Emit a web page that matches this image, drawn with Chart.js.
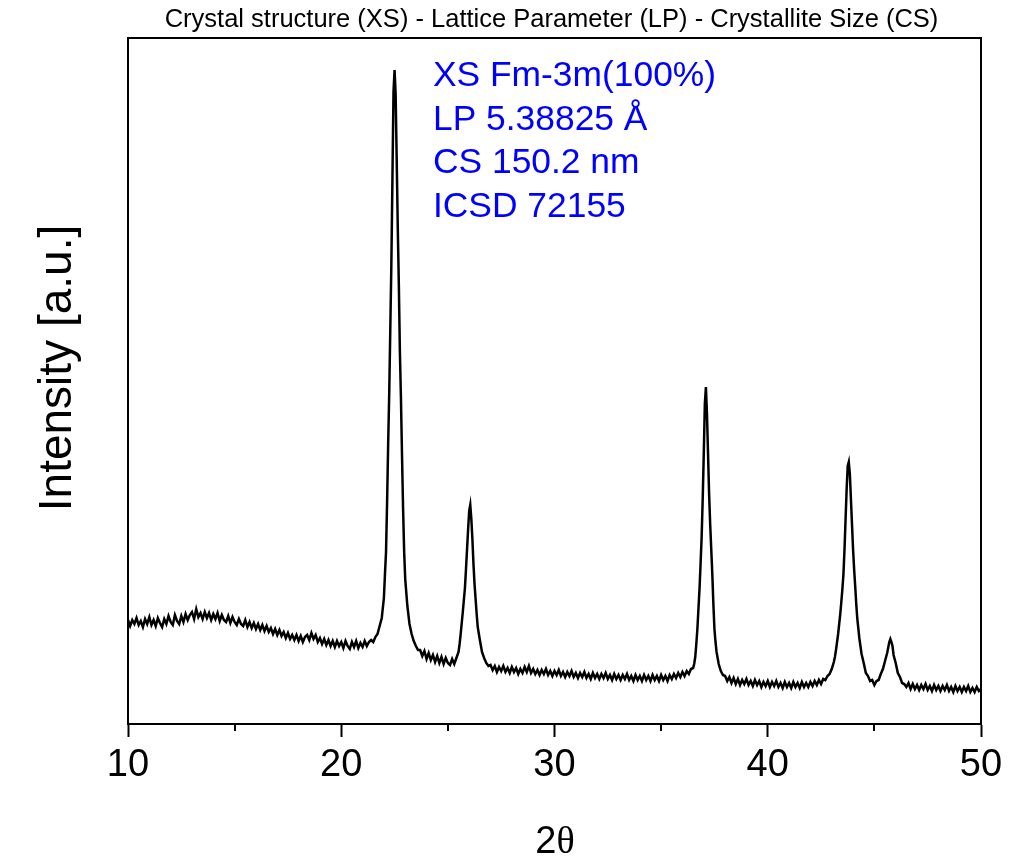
<!DOCTYPE html>
<html>
<head>
<meta charset="utf-8">
<script src="https://cdn.jsdelivr.net/npm/chart.js@4.4.1/dist/chart.umd.min.js"></script>
<style>
  html, body { margin: 0; padding: 0; background: #ffffff; }
  #wrap { width: 1011px; height: 863px; }
</style>
</head>
<body>
<div id="wrap"><canvas id="c" width="1011" height="863"></canvas></div>
<script>
// ---- Data (2θ, intensity in arbitrary units) ----
const amorphousHump = [
  [10.0,104],[10.1,98],[10.2,104],[10.3,100],[10.4,106],[10.5,99],[10.6,103],[10.7,97],[10.8,105],[10.9,100],
  [11.0,107],[11.1,99],[11.2,104],[11.3,98],[11.4,106],[11.5,101],[11.6,97],[11.7,105],[11.8,100],[11.9,108],
  [12.0,102],[12.1,99],[12.2,109],[12.3,103],[12.4,100],[12.5,108],[12.6,102],[12.7,110],[12.8,104],[12.9,109],
  [13.0,112],[13.1,105],[13.2,115],[13.3,107],[13.4,111],[13.5,105],[13.6,112],[13.7,106],[13.8,111],[13.9,104],
  [14.0,110],[14.1,105],[14.2,111],[14.3,103],[14.4,109],[14.5,104],[14.6,102],[14.7,108],[14.8,101],[14.9,107],
  [15.0,102],[15.1,99],[15.2,105],[15.3,100],[15.4,98],[15.5,104],[15.6,97],[15.7,102],[15.8,96],[15.9,101],
  [16.0,95],[16.1,100],[16.2,94],[16.3,99],[16.4,93],[16.5,98],[16.6,92],[16.7,96],[16.8,90],[16.9,95],
  [17.0,89],[17.1,94],[17.2,88],[17.3,92],[17.4,86],[17.5,91],[17.6,85],[17.7,89],[17.8,84],[17.9,89],
  [18.0,83],[18.1,88],[18.2,82],[18.3,87],[18.4,89],[18.5,84],[18.6,91],[18.7,85],[18.8,89],[18.9,82],
  [19.0,86],[19.1,80],[19.2,85],[19.3,79],[19.4,84],[19.5,78],[19.6,83],[19.7,77],[19.8,83],[19.9,78],
  [20.0,82],[20.1,76],[20.2,83],[20.3,78],[20.4,75],[20.5,82],[20.6,77],[20.7,83],[20.8,76],[20.9,81],
  [21.0,77],[21.1,83],[21.2,78],[21.3,82],[21.4,84],[21.5,82],[21.6,87],[21.7,90],[21.8,98],[21.9,106]
];
const peak111 = [
  [22.0,126],[22.05,150],[22.1,172],[22.15,222],[22.2,280],[22.25,331],[22.3,395],[22.35,460],[22.4,545],
  [22.45,632],[22.5,654],[22.55,630],[22.6,565],[22.65,497],[22.7,440],[22.75,372],[22.8,325],[22.85,268],
  [22.9,215],[22.95,172],[23.0,145],[23.1,118],[23.2,100],[23.3,90],[23.4,83],[23.5,78],[23.6,74]
];
const valley1 = [
  [23.7,74],[23.8,68],[23.9,73],[24.0,65],[24.1,71],[24.2,64],[24.3,69],[24.4,62],[24.5,68],[24.6,61],
  [24.7,67],[24.8,60],[24.9,66],[25.0,61],[25.1,59],[25.2,65],[25.3,60],[25.4,66],[25.5,72]
];
const peak200 = [
  [25.55,80],[25.6,90],[25.65,101],[25.7,112],[25.75,124],[25.8,136],[25.85,155],[25.9,175],[25.95,195],
  [26.0,213],[26.05,219],[26.1,205],[26.15,185],[26.2,160],[26.25,140],[26.3,125],[26.35,110],[26.4,97],
  [26.5,84],[26.6,72],[26.7,66],[26.8,61],[26.9,58]
];
const valley2 = [
  [27.0,59],[27.1,54],[27.2,58],[27.3,52],[27.4,57],[27.5,53],[27.6,58],[27.7,52],[27.8,56],[27.9,51],
  [28.0,57],[28.1,52],[28.2,56],[28.3,50],[28.4,55],[28.5,51],[28.6,57],[28.7,52],[28.8,58],[28.9,51],
  [29.0,55],[29.1,50],[29.2,54],[29.3,49],[29.4,54],[29.5,50],[29.6,55],[29.7,49],[29.8,53],[29.9,48],
  [30.0,53],[30.1,49],[30.2,54],[30.3,48],[30.4,52],[30.5,47],[30.6,52],[30.7,48],[30.8,53],[30.9,47],
  [31.0,51],[31.1,46],[31.2,51],[31.3,47],[31.4,52],[31.5,46],[31.6,50],[31.7,45],[31.8,51],[31.9,46],
  [32.0,50],[32.1,45],[32.2,50],[32.3,46],[32.4,51],[32.5,45],[32.6,49],[32.7,44],[32.8,50],[32.9,45],
  [33.0,49],[33.1,44],[33.2,49],[33.3,45],[33.4,50],[33.5,44],[33.6,48],[33.7,43],[33.8,49],[33.9,44],
  [34.0,48],[34.1,43],[34.2,49],[34.3,44],[34.4,48],[34.5,43],[34.6,49],[34.7,44],[34.8,48],[34.9,43],
  [35.0,49],[35.1,44],[35.2,48],[35.3,43],[35.4,49],[35.5,45],[35.6,50],[35.7,46],[35.8,51],[35.9,47],
  [36.0,52],[36.1,48],[36.2,53],[36.3,50],[36.4,55],[36.5,56]
];
const peak220 = [
  [36.55,60],[36.6,67],[36.65,80],[36.7,95],[36.75,115],[36.8,135],[36.85,160],[36.9,187],[36.95,225],
  [37.0,270],[37.05,320],[37.1,337],[37.15,310],[37.2,270],[37.25,230],[37.3,200],[37.35,175],[37.4,150],
  [37.45,120],[37.5,95],[37.55,82],[37.6,72],[37.7,60],[37.8,53],[37.9,49]
];
const valley3 = [
  [38.0,48],[38.1,43],[38.2,47],[38.3,41],[38.4,46],[38.5,40],[38.6,45],[38.7,39],[38.8,44],[38.9,40],
  [39.0,45],[39.1,39],[39.2,43],[39.3,38],[39.4,44],[39.5,39],[39.6,43],[39.7,37],[39.8,42],[39.9,38],
  [40.0,43],[40.1,37],[40.2,42],[40.3,38],[40.4,43],[40.5,37],[40.6,41],[40.7,36],[40.8,42],[40.9,37],
  [41.0,41],[41.1,36],[41.2,42],[41.3,37],[41.4,41],[41.5,36],[41.6,42],[41.7,37],[41.8,41],[41.9,37],
  [42.0,42],[42.1,38],[42.2,43],[42.3,39],[42.4,44],[42.5,40],[42.6,45],[42.7,44],[42.8,48],[42.9,50]
];
const peak311 = [
  [43.0,55],[43.1,62],[43.15,67],[43.2,74],[43.3,90],[43.4,110],[43.45,122],[43.5,135],[43.55,150],
  [43.6,175],[43.65,205],[43.7,235],[43.75,258],[43.8,262],[43.85,250],[43.9,225],[43.95,200],[44.0,175],
  [44.05,155],[44.1,138],[44.15,120],[44.2,105],[44.3,85],[44.4,70],[44.5,61],[44.6,51],[44.7,48],[44.8,43],[44.9,44]
];
const peak222 = [
  [45.0,39],[45.1,43],[45.2,44],[45.3,50],[45.4,55],[45.5,63],[45.6,71],[45.7,82],[45.75,85],[45.8,82],
  [45.85,78],[45.9,69],[46.0,61],[46.1,51],[46.2,47],[46.3,41],[46.4,40]
];
const tail = [
  [46.5,37],[46.6,41],[46.7,35],[46.8,40],[46.9,35],[47.0,39],[47.1,34],[47.2,39],[47.3,35],[47.4,40],
  [47.5,34],[47.6,38],[47.7,33],[47.8,39],[47.9,34],[48.0,38],[48.1,33],[48.2,38],[48.3,34],[48.4,39],
  [48.5,33],[48.6,37],[48.7,32],[48.8,38],[48.9,33],[49.0,37],[49.1,32],[49.2,37],[49.3,33],[49.4,38],
  [49.5,32],[49.6,36],[49.7,32],[49.8,37],[49.9,33],[50.0,35]
];

const xTickValues = [10, 20, 30, 40, 50];
const xMinorTicks = [15, 25, 35, 45];
const annotationLines = ['XS Fm-3m(100%)', 'LP 5.38825 \u00C5', 'CS 150.2 nm', 'ICSD 72155'];
const chartTitle = 'Crystal structure (XS) - Lattice Parameter (LP) - Crystallite Size (CS)';

// ---- build ----
const pattern = [].concat(amorphousHump, peak111, valley1, peak200, valley2, peak220, valley3, peak311, peak222, tail)
  .map(p => ({x: p[0], y: p[1]}));

const FONT = "'Liberation Sans', Arial, sans-serif";

const decor = {
  id: 'decor',
  afterDraw(chart) {
    const {ctx, chartArea: a, scales: {x, y}} = chart;
    ctx.save();
    // top & right frame
    ctx.strokeStyle = '#000';
    ctx.lineWidth = 2;
    ctx.beginPath();
    ctx.moveTo(a.left - 1, a.top);
    ctx.lineTo(a.right, a.top);
    ctx.lineTo(a.right, a.bottom);
    ctx.stroke();
    // minor ticks
    ctx.beginPath();
    xMinorTicks.forEach(v => {
      const px = Math.round(x.getPixelForValue(v));
      ctx.moveTo(px, a.bottom);
      ctx.lineTo(px, a.bottom + 7);
    });
    ctx.stroke();
    // chart title
    ctx.fillStyle = '#000';
    ctx.font = '25.5px ' + FONT;
    ctx.textAlign = 'center';
    ctx.textBaseline = 'middle';
    ctx.fillText(chartTitle, (a.left + a.right) / 2 - 3, 20);
    // annotation text
    ctx.fillStyle = '#0000ff';
    ctx.font = '35.4px ' + FONT;
    ctx.textAlign = 'left';
    ctx.textBaseline = 'alphabetic';
    const ax = x.getPixelForValue(24.3);
    annotationLines.forEach((t, i) => {
      ctx.fillText(t, ax, a.top + 48 + i * 43.7);
    });
    // y title
    ctx.fillStyle = '#000';
    ctx.font = '46px ' + FONT;
    ctx.translate(58, 368);
    ctx.rotate(-Math.PI / 2);
    ctx.textAlign = 'center';
    ctx.textBaseline = 'middle';
    ctx.fillText('Intensity [a.u.]', 0, 0);
    ctx.restore();
    // x title 2θ
    ctx.save();
    ctx.fillStyle = '#000';
    ctx.textBaseline = 'alphabetic';
    ctx.font = '38px ' + FONT;
    const w2 = ctx.measureText('2').width;
    ctx.font = "38px 'Liberation Serif', serif";
    const wt = ctx.measureText('\u03B8').width;
    const cx = 555 - (w2 + wt) / 2;
    ctx.font = '38px ' + FONT;
    ctx.fillText('2', cx, 853);
    ctx.font = "38px 'Liberation Serif', serif";
    ctx.fillText('\u03B8', cx + w2, 853);
    ctx.restore();
  }
};

new Chart(document.getElementById('c'), {
  type: 'line',
  data: {
    datasets: [{
      data: pattern,
      borderColor: '#000',
      borderWidth: 2.5,
      pointRadius: 0,
      tension: 0,
      fill: false
    }]
  },
  options: {
    responsive: false,
    animation: false,
    devicePixelRatio: 1,
    layout: { padding: { top: 38, right: 30, left: 0, bottom: 0 } },
    plugins: {
      legend: { display: false },
      tooltip: { enabled: false },
      title: { display: false }
    },
    scales: {
      x: {
        type: 'linear',
        min: 10, max: 50,
        afterBuildTicks: s => { s.ticks = xTickValues.map(v => ({value: v})); },
        afterFit: s => { s.height = 139; },
        ticks: { color: '#000', font: { family: FONT, size: 38 }, padding: 6, maxRotation: 0 },
        grid: { display: true, drawOnChartArea: false, drawTicks: true, tickLength: 13, tickWidth: 2, tickColor: '#000', color: '#000' },
        border: { display: true, color: '#000', width: 2 }
      },
      y: {
        min: 0, max: 686,
        afterFit: s => { s.width = 128; },
        ticks: { display: false },
        grid: { display: false, drawTicks: false },
        border: { display: true, color: '#000', width: 2 }
      }
    }
  },
  plugins: [decor]
});
</script>
</body>
</html>
